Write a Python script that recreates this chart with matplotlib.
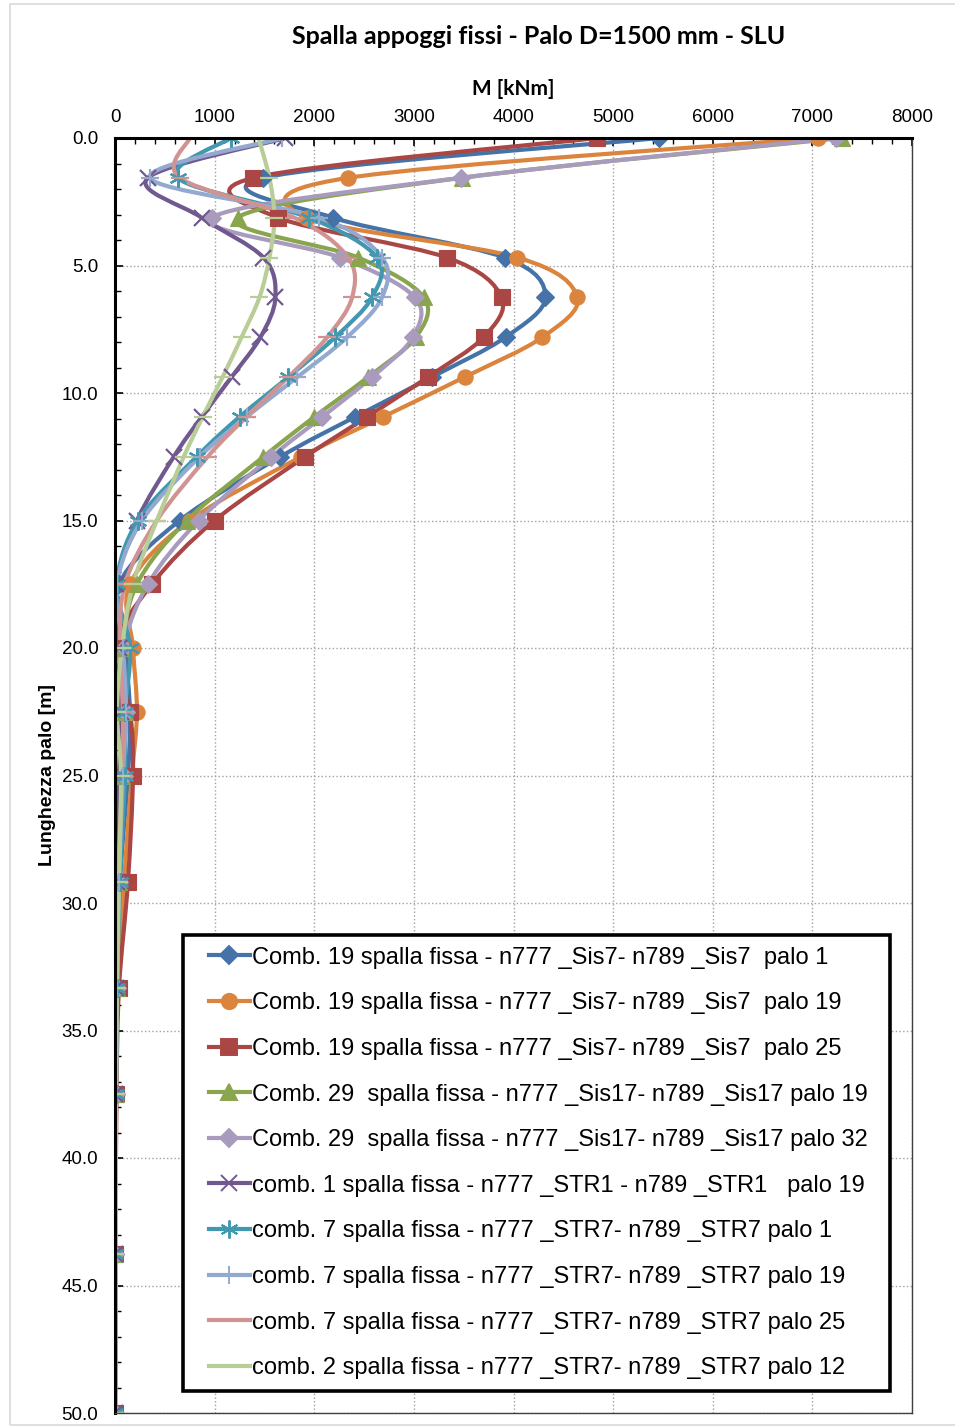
import numpy as np
import matplotlib
matplotlib.use('Agg')
import matplotlib.pyplot as plt
from matplotlib.path import Path
from matplotlib.patches import PathPatch, Rectangle
from matplotlib.lines import Line2D
from matplotlib.legend_handler import HandlerLine2D

plt.rcParams['font.family'] = ['Liberation Sans', 'DejaVu Sans']

# profondita' lungo il palo [m]
depth = [0.0, 1.5625, 3.125, 4.6875, 6.25, 7.8125, 9.375, 10.9375, 12.5, 15.0,
         17.5, 20.0, 22.5, 25.0, 29.1667, 33.3333, 37.5, 43.75, 50.0]

# momenti M [kNm]
c19_p1 = [5460, 1490, 2190, 3910, 4320, 3920, 3180, 2410, 1660, 650,
          40, 100, 150, 130, 50, 20, 10, 5, 0]
c19_p19 = [7060, 2340, 1930, 4040, 4640, 4290, 3510, 2690, 1870, 750,
           150, 180, 220, 170, 90, 30, 10, 5, 0]
c19_p25 = [4840, 1390, 1640, 3330, 3880, 3700, 3140, 2530, 1910, 1000,
           370, 0, 150, 180, 130, 40, 15, 5, 0]
c29_p19 = [7300, 3480, 1230, 2440, 3100, 3020, 2540, 2000, 1490, 720,
           220, 80, 100, 70, 40, 20, 10, 5, 0]
c29_p32 = [7240, 3470, 970, 2260, 3010, 2990, 2580, 2080, 1570, 840,
           330, 90, 110, 90, 40, 20, 10, 5, 0]
c1_p19 = [1710, 330, 870, 1490, 1610, 1460, 1170, 870, 590, 220,
          10, 40, 60, 40, 20, 10, 5, 2, 0]
c7_p1 = [1160, 630, 1950, 2630, 2580, 2210, 1740, 1250, 820, 230,
         20, 150, 100, 100, 50, 20, 10, 5, 0]
c7_p19 = [1680, 350, 2050, 2680, 2680, 2330, 1830, 1320, 850, 270,
          20, 80, 110, 80, 40, 20, 10, 5, 0]
c7_p25 = [750, 650, 1800, 2340, 2380, 2130, 1740, 1320, 930, 420,
          100, 50, 80, 70, 30, 15, 5, 2, 0]
c2_p12 = [1440, 1550, 1600, 1550, 1450, 1270, 1080, 880, 690, 420,
          180, 70, 20, 60, 40, 20, 10, 5, 0]

labels = [
    'Comb. 19 spalla fissa - n777 _Sis7- n789 _Sis7  palo 1',
    'Comb. 19 spalla fissa - n777 _Sis7- n789 _Sis7  palo 19',
    'Comb. 19 spalla fissa - n777 _Sis7- n789 _Sis7  palo 25',
    'Comb. 29  spalla fissa - n777 _Sis17- n789 _Sis17 palo 19',
    'Comb. 29  spalla fissa - n777 _Sis17- n789 _Sis17 palo 32',
    'comb. 1 spalla fissa - n777 _STR1 - n789 _STR1   palo 19',
    'comb. 7 spalla fissa - n777 _STR7- n789 _STR7 palo 1',
    'comb. 7 spalla fissa - n777 _STR7- n789 _STR7 palo 19',
    'comb. 7 spalla fissa - n777 _STR7- n789 _STR7 palo 25',
    'comb. 2 spalla fissa - n777 _STR7- n789 _STR7 palo 12',
]
serie = [c19_p1, c19_p19, c19_p25, c29_p19, c29_p32, c1_p19, c7_p1, c7_p19, c7_p25, c2_p12]
colori = ['#4572A7', '#DB843D', '#AA4643', '#89A54E', '#A99BBD',
          '#71588F', '#4198AF', '#93A9CF', '#D19392', '#B9CD96']
marker = ['D', 'o', 's', '^', 'D', 'x', (6, 2, 0), '+', '_', '_']
msize = [9, 11, 11, 11, 9, 12, 13, 13, 13, 13]


def curva_smooth(x, y):
    # curva tipo "linee smussate" di Excel (bezier cubiche)
    p = np.column_stack([x, y]).astype(float)
    n = len(p)
    verts = [p[0]]
    codes = [Path.MOVETO]
    for i in range(n - 1):
        p0 = p[i - 1] if i > 0 else p[i]
        p3 = p[i + 2] if i + 2 < n else p[i + 1]
        c1 = p[i] + (p[i + 1] - p0) / 6.0
        c2 = p[i + 1] - (p3 - p[i]) / 6.0
        verts += [c1, c2, p[i + 1]]
        codes += [Path.CURVE4] * 3
    return Path(verts, codes)


fig = plt.figure(figsize=(9.55, 14.28), dpi=100)
fig.patches.append(Rectangle((10 / 955, 0.002), 0.997, 1 - 7 / 1428, transform=fig.transFigure,
                             fill=False, edgecolor='#D9D9D9', lw=1.2))
ax = fig.add_axes([115 / 955, 1 - 1413 / 1428, 797 / 955, 1275 / 1428])

for vals, col, mk, ms in zip(serie, colori, marker, msize):
    ax.add_patch(PathPatch(curva_smooth(vals, depth), fill=False, edgecolor=col, lw=3.0,
                           capstyle='round', joinstyle='round'))
    ax.plot(vals, depth, linestyle='none', marker=mk, markersize=ms, color=col,
            markeredgecolor=col, markeredgewidth=1.6 if mk in ('x', '+', '_') or isinstance(mk, tuple) else 0.8)

ax.set_xlim(0, 8000)
ax.set_ylim(50, 0)
ax.xaxis.tick_top()
ax.xaxis.set_label_position('top')
ax.set_xticks(np.arange(0, 8001, 1000))
ax.set_xticks(np.arange(0, 8001, 200), minor=True)
ax.set_yticks(np.arange(0, 50.1, 5))
ax.set_yticks(np.arange(0, 50.1, 1), minor=True)
ax.set_yticklabels(['%.1f' % v for v in np.arange(0, 50.1, 5)])
ax.tick_params(axis='both', which='both', direction='in', labelsize=13.5)
ax.tick_params(axis='y', which='major', pad=12)
ax.tick_params(axis='x', which='major', pad=9)
ax.tick_params(axis='both', which='major', length=6, width=1.2)
ax.tick_params(axis='both', which='minor', length=4, width=1.0)
ax.grid(True, which='major', linestyle=':', color='#A0A0A0', lw=1.0)
ax.set_axisbelow(True)
for s in ['top', 'left']:
    ax.spines[s].set_linewidth(2.2)
for s in ['right', 'bottom']:
    ax.spines[s].set_linewidth(1.0)
    ax.spines[s].set_color('#404040')

ax.set_xlabel('M [kNm]', fontsize=15, fontweight='bold', family=['Lato', 'DejaVu Sans'], labelpad=10)
ax.set_ylabel('Lunghezza palo [m]', fontsize=14, fontweight='bold', labelpad=4)
fig.text(539 / 955, 1 - 37 / 1428, 'Spalla appoggi fissi - Palo D=1500 mm - SLU', ha='center', va='center',
         fontsize=18, fontweight='bold', family=['Lato', 'DejaVu Sans'])

handles = [Line2D([], [], color=c, lw=3.0, marker=m, markersize=ms, markeredgecolor=c,
                  markeredgewidth=1.4) for c, m, ms in zip(colori, marker, msize)]
leg = ax.legend(handles, labels, loc='upper left', bbox_to_anchor=(0.085, 0.375, 0.887, 0.0),
                mode='expand', fontsize=17, handlelength=2.35, handletextpad=0.1, labelspacing=1.0,
                frameon=True, fancybox=False, borderpad=0.5, borderaxespad=0,
                handler_map={Line2D: HandlerLine2D(xpad=0.6)})
leg.get_frame().set_edgecolor('black')
leg.get_frame().set_linewidth(2.6)
leg.get_frame().set_facecolor('white')
leg.get_frame().set_alpha(1)

fig.savefig('out.png', dpi=100)
